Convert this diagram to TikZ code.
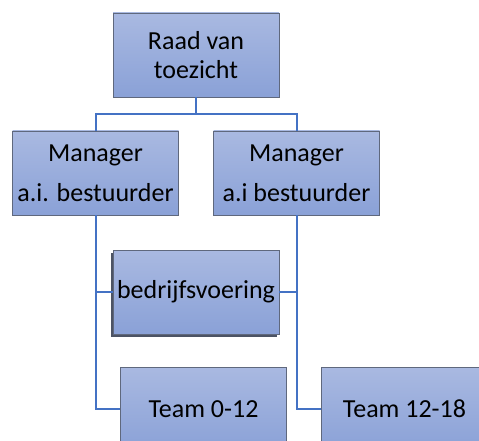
\documentclass[tikz,border=0pt]{standalone}
\usepackage{fontspec}
\setmainfont{Carlito}
\usetikzlibrary{shadows}
\definecolor{boxtop}{RGB}{169,185,225}
\definecolor{boxbot}{RGB}{138,161,215}
\definecolor{boxline}{RGB}{95,104,125}
\definecolor{linkblue}{RGB}{68,114,196}
\begin{document}
\begin{tikzpicture}[x=1pt, y=-1pt,
    every node/.style={font=\fontsize{26}{29}\selectfont},
    orgbox/.style={rectangle, draw=boxline, line width=0.8pt, top color=boxtop,
                   bottom color=boxbot, minimum width=166pt, minimum height=84pt,
                   inner sep=2pt, align=center},
    shadowbox/.style={drop shadow={fill=boxline!80!black, opacity=1,
                      shadow xshift=-2.5pt, shadow yshift=-2.5pt}},
    link/.style={draw=linkblue, line width=2pt}
]
  \clip (0,0) rectangle (479,441);
  \fill[white] (0,0) rectangle (479,441);

  % top
  \node[orgbox] (raad) at (196,55) {Raad van\\toezicht};

  % managers
  \node[orgbox] (mgr-l) at (95.5,173) {Manager\\[11pt]a.i. bestuurder};
  \node[orgbox] (mgr-r) at (296.5,173) {Manager\\[11pt]a.i bestuurder};

  % staff and teams
  \node[orgbox, shadowbox] (bedrijf) at (196,292) {bedrijfsvoering};
  \node[orgbox] (team-a) at (203.5,409) {Team 0-12};
  \node[orgbox] (team-b) at (404.5,409) {Team 12-18};

  % connectors
  \draw[link] (raad.south) -- ++(0,17) coordinate (split) -| (mgr-l.north);
  \draw[link] (split) -| (mgr-r.north);
  \draw[link] (mgr-l.south) |- (team-a.west);
  \draw[link] (mgr-l.south |- bedrijf.west) -- (bedrijf.west);
  \draw[link] (mgr-r.south) |- (team-b.west);
  \draw[link] (mgr-r.south |- bedrijf.east) -- (bedrijf.east);
\end{tikzpicture}
\end{document}
